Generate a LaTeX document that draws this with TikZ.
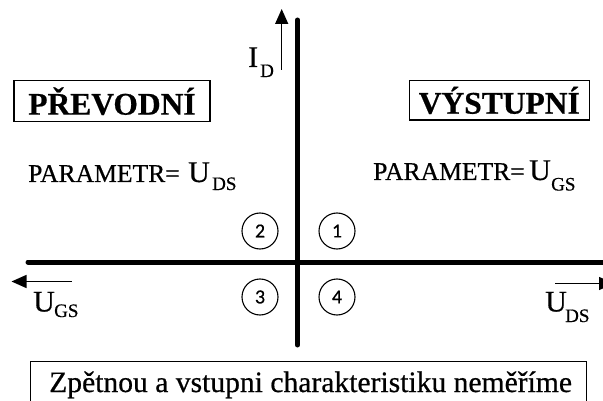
\documentclass[tikz,border=0pt]{standalone}
\usepackage{fontspec}
\setmainfont{Liberation Serif}
\newfontfamily\tnr{Liberation Serif}[FakeBold=0.6]
\newfontfamily\numfont{Carlito}[FakeBold=0.4]
\usetikzlibrary{arrows.meta}
\begin{document}
\begin{tikzpicture}[x=1pt,y=-1pt,
  axis/.style={line width=5pt,line cap=round},
  arr/.style={line width=1.4pt,-{Triangle[length=15pt,width=13pt]}},
  headbox/.style={draw,line width=1.3pt,inner sep=0pt,font=\tnr\fontsize{31.5}{36}\selectfont\bfseries},
  quad/.style={draw,circle,line width=1.1pt,minimum size=36pt,inner sep=0pt,font=\numfont\fontsize{20}{22}\selectfont},
  lbl/.style={anchor=base west,inner sep=0pt,font=\tnr\fontsize{30}{34}\selectfont},
  sub/.style={anchor=base west,inner sep=0pt,font=\tnr\fontsize{19}{22}\selectfont},
  param/.style={anchor=base west,inner sep=0pt,font=\tnr\fontsize{25.6}{30}\selectfont},
  note/.style={anchor=base west,inner sep=0pt,font=\tnr\fontsize{29.6}{34}\selectfont}]

\path[use as bounding box, clip] (0,0) rectangle (603,401);
\fill[white] (0,0) rectangle (603,401);

% axes
\coordinate (ytop) at (297.5,20);
\coordinate (ybot) at (297.5,345);
\coordinate (xleft) at (28,262);
\coordinate (xright) at (612,262);
\draw[axis] (ytop) -- (ybot);
\draw[axis] (xleft) -- (xright);

% direction arrows
\coordinate (idS) at (281.7,70);
\coordinate (idE) at (281.7,9);
\draw[arr] (idS) -- (idE);
\coordinate (ugsS) at (71.7,281.5);
\coordinate (ugsE) at (11.5,281.5);
\draw[arr] (ugsS) -- (ugsE);
\coordinate (udsS) at (555,283.5);
\coordinate (udsE) at (614,283.5);
\draw[arr] (udsS) -- (udsE);

% axis labels
\node[lbl] (I) at (248,67) {I};
\node[sub] (Isub) at (260,77) {D};
\node[lbl] (Ugs) at (33,311.5) {U};
\node[sub] (Ugssub) at (54,317) {GS};
\node[lbl] (Uds) at (545,311.5) {U};
\node[sub] (Udssub) at (565,322) {DS};

% headings
\node[headbox,minimum width=196pt,minimum height=41pt] (prev) at (112,101.2) {PŘEVODNÍ};
\node[headbox,minimum width=180pt,minimum height=39.3pt] (vyst) at (499.3,100.4) {VÝSTUPNÍ};

% parameters
\node[param] (parL) at (28,182) {PARAMETR=};
\node[lbl] (parLU) at (188,182) {U};
\node[sub] (parLsub) at (212,190) {DS};
\node[param] (parR) at (373,180) {PARAMETR=};
\node[lbl] (parRU) at (529,180) {U};
\node[sub] (parRsub) at (551,190.5) {GS};

% quadrant numbers
\node[quad] (q2) at (260,231) {2};
\node[quad] (q1) at (337,231) {1};
\node[quad] (q3) at (260,297) {3};
\node[quad] (q4) at (337,297) {4};

% bottom note
\node[note] (note) at (49,392) {Zpětnou a vstupni charakteristiku neměříme};
\coordinate (nbl) at (30.7,420);
\coordinate (ntr) at (586.7,361.5);
\draw[line width=1.3pt] (nbl) |- (ntr) -- (ntr |- nbl);
\end{tikzpicture}
\end{document}
